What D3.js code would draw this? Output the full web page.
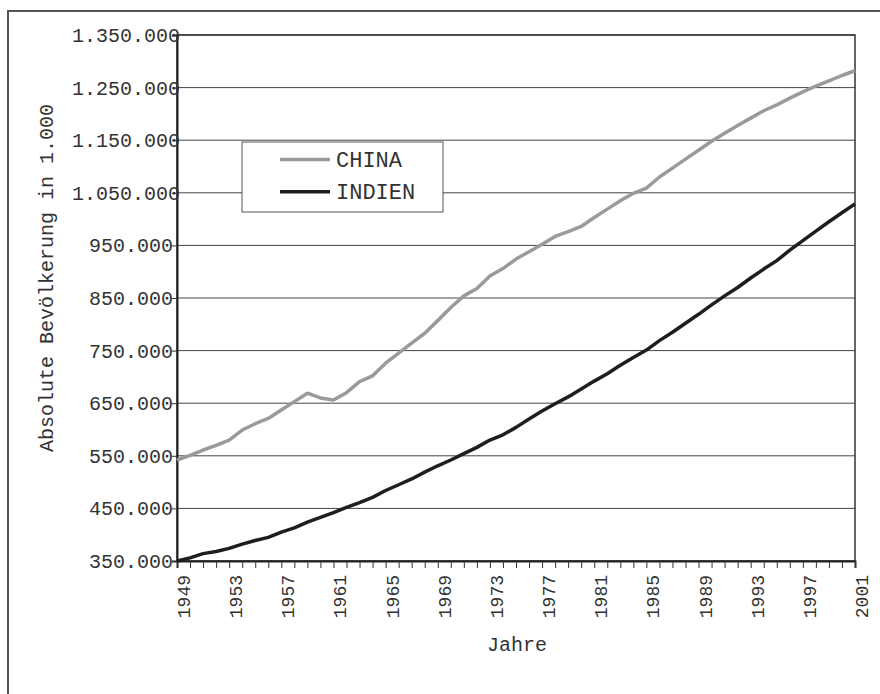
<!DOCTYPE html>
<html><head><meta charset="utf-8">
<script src="https://cdn.jsdelivr.net/npm/d3@7/dist/d3.min.js"></script>
<style>body{margin:0;background:#fff}svg{display:block}text{font-family:"Liberation Mono","DejaVu Sans Mono",monospace;fill:#333}</style>
</head><body><svg id="c" width="880" height="694"></svg>
<script>
const years = d3.range(1949, 2002);
const china = [542,551,561,570,580,599,611,621,637,653,669,660,656,670,691,702,726,745,764,783,807,832,854,868,892,906,924,938,952,967,976,986,1003,1019,1035,1049,1059,1080,1097,1114,1131,1148,1163,1178,1192,1206,1217,1230,1242,1253,1263,1273,1282];
const india = [350,356,364,368,374,382,389,395,405,413,424,433,442,452,461,471,484,495,506,519,531,542,554,566,580,590,604,620,635,649,662,677,692,706,722,737,751,769,785,802,819,837,854,870,888,905,921,941,959,977,995,1012,1029];
const yTicks = [350,450,550,650,750,850,950,1050,1150,1250,1350];
const xLabelYears = d3.range(1949, 2002, 4);
const seriesNames = ["CHINA","INDIEN"];
const seriesColors = ["#9a9a9a","#1e1e1e"];
const yTitle = "Absolute Bevölkerung in 1.000";
const xTitle = "Jahre";

const svg = d3.select("#c");
const L = 177, R = 855, T = 35, B = 561;
const x = d3.scaleLinear().domain([1949, 2001]).range([L, R]);
const y = d3.scaleLinear().domain([350, 1350]).range([B, T]);
const fmt = v => d3.format(",")(v * 1000).replace(/,/g, ".");

// outer frame
svg.append("rect").attr("x", 8).attr("y", 11).attr("width", 900).attr("height", 720)
  .attr("fill", "none").attr("stroke", "#555").attr("stroke-width", 2);

// gridlines
svg.append("g").selectAll("line").data(yTicks).join("line")
  .attr("x1", L).attr("x2", R).attr("y1", d => y(d)).attr("y2", d => y(d))
  .attr("stroke", "#444").attr("stroke-width", 1);

// plot frame right/top
svg.append("rect").attr("x", L).attr("y", T).attr("width", R - L).attr("height", B - T)
  .attr("fill", "none").attr("stroke", "#333").attr("stroke-width", 1.5);

// y axis
const ya = svg.append("g").attr("transform", `translate(${L},0)`)
  .call(d3.axisLeft(y).tickValues(yTicks).tickSize(5).tickPadding(3).tickFormat(fmt));
ya.select(".domain").attr("stroke", "#222").attr("stroke-width", 2);
ya.selectAll(".tick line").attr("stroke", "#333");
ya.selectAll(".tick text").attr("font-size", 20).attr("fill", "#333")
  .attr("font-family", "Liberation Mono")
  .attr("x", d => fmt(d).length > 7 ? 3 : -4);

// x axis
const xa = svg.append("g").attr("transform", `translate(0,${B})`)
  .call(d3.axisBottom(x).tickValues(years).tickSize(7).tickFormat(""));
xa.select(".domain").attr("stroke", "#222").attr("stroke-width", 2);
xa.selectAll(".tick line").attr("stroke", "#333");
svg.append("g").selectAll("text").data(xLabelYears).join("text")
  .attr("transform", d => `translate(${x(d)},${B + 14}) rotate(-90)`)
  .attr("text-anchor", "end").attr("dy", 13).attr("font-size", 18)
  .text(d => d);

// lines
const line = d3.line().x((d, i) => x(years[i])).y(d => y(d));
[china, india].forEach((s, k) => {
  svg.append("path").datum(s).attr("d", line).attr("fill", "none")
    .attr("stroke", seriesColors[k]).attr("stroke-width", 3.5).attr("stroke-linejoin", "round");
});

// legend
const lg = svg.append("g");
lg.append("rect").attr("x", 242).attr("y", 142).attr("width", 201).attr("height", 70)
  .attr("fill", "#fff").attr("stroke", "#555").attr("stroke-width", 1);
seriesNames.forEach((n, k) => {
  const cy = 159.5 + k * 32.3;
  lg.append("line").attr("x1", 280).attr("x2", 330).attr("y1", cy).attr("y2", cy)
    .attr("stroke", seriesColors[k]).attr("stroke-width", 3.5);
  lg.append("text").attr("x", 336).attr("y", cy + 7).attr("font-size", 22).text(n);
});

// titles
svg.append("text").attr("transform", "translate(53,278) rotate(-90)")
  .attr("text-anchor", "middle").attr("font-size", 20).text(yTitle);
svg.append("text").attr("x", 517).attr("y", 651).attr("text-anchor", "middle")
  .attr("font-size", 20).text(xTitle);
</script></body></html>
